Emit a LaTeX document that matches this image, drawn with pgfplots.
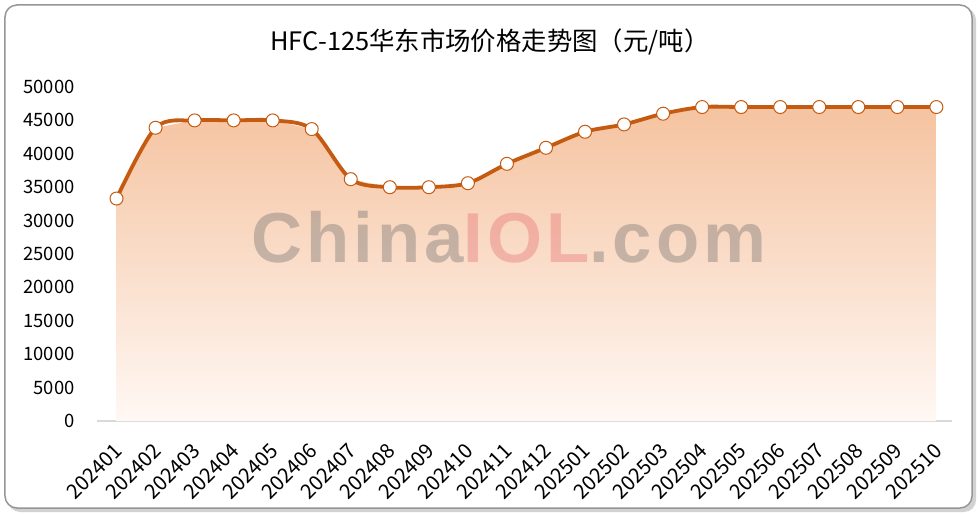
\documentclass[border=0pt]{standalone}
\usepackage{pgfplots}
\pgfplotsset{compat=1.18}
\usepackage{fontspec}
\setmainfont{Noto Sans CJK SC}
\newfontfamily\wmfont{Liberation Sans}
\definecolor{lineor}{RGB}{197,90,17}
\definecolor{filltop}{RGB}{245,195,160}
\definecolor{fillbot}{RGB}{255,248,244}
\definecolor{axgray}{RGB}{217,217,217}
\definecolor{framegray}{RGB}{150,150,150}
\definecolor{wmgray}{RGB}{125,120,118}
\definecolor{wmred}{RGB}{232,120,120}
\begin{document}
\begin{tikzpicture}
% frame
\fill[gray!35, rounded corners=12bp] (-89bp,-91bp) rectangle (879bp,413bp);
\draw[framegray, line width=1.5bp, fill=white, rounded corners=12bp] (-92bp,-87bp) rectangle (875bp,416bp);
\begin{axis}[
  at={(0,0)}, anchor=south west,
  scale only axis, width=855bp, height=334bp,
  xmin=-0.5, xmax=21.4, ymin=0, ymax=50000,
  xtick={0,...,21},
  xticklabels={202401,202402,202403,202404,202405,202406,202407,202408,202409,202410,202411,202412,202501,202502,202503,202504,202505,202506,202507,202508,202509,202510},
  ytick={0,5000,...,50000},
  scaled y ticks=false,
  axis x line*=bottom, axis y line*=left,
  x axis line style={axgray, line width=1.2bp, -},
  y axis line style={draw=none},
  major tick length=0pt,
  every tick label/.style={font=\fontsize{18.5}{20}\selectfont},
  /pgf/number format/assume math mode=true,
  /pgf/number format/1000 sep={},
  /pgf/number format/fixed,
  yticklabel style={anchor=east, xshift=-19bp},
  xticklabel style={font=\fontsize{20.5}{22}\selectfont, xshift=4bp, yshift=-24bp, rotate=45, anchor=east},
  clip=false,
]
\addplot[draw=none, top color=filltop, bottom color=fillbot, shading angle=0] coordinates {
(0,33300) (1,43900) (2,45000) (3,45000) (4,45000) (5,43700) (6,36200) (7,35000) (8,35000) (9,35600) (10,38500) (11,40900) (12,43300) (13,44400) (14,46000) (15,47000) (16,47000) (17,47000) (18,47000) (19,47000) (20,47000) (21,47000)
} \closedcycle;
\node[font=\wmfont\bfseries\fontsize{71}{73}\selectfont, opacity=0.42] at (axis cs:10.05,27500) {\addfontfeature{LetterSpace=5.5}\textcolor{wmgray}{China}\textcolor{wmred}{IOL}\textcolor{wmgray}{.com}};
\addplot[lineor, line width=3.8bp, smooth, tension=0.5, mark=*, mark size=6.5bp, mark options={fill=white, draw=lineor, line width=1bp}] coordinates {
(0,33300) (1,43900) (2,45000) (3,45000) (4,45000) (5,43700) (6,36200) (7,35000) (8,35000) (9,35600) (10,38500) (11,40900) (12,43300) (13,44400) (14,46000) (15,47000) (16,47000) (17,47000) (18,47000) (19,47000) (20,47000) (21,47000)
};
\end{axis}
\node[font=\fontsize{25.5}{28}\selectfont] at (393bp,379bp) {HFC-125华东市场价格走势图（元/吨）};
\pgfresetboundingbox
\useasboundingbox (-97bp,-94bp) rectangle (883bp,421bp);
\end{tikzpicture}
\end{document}
